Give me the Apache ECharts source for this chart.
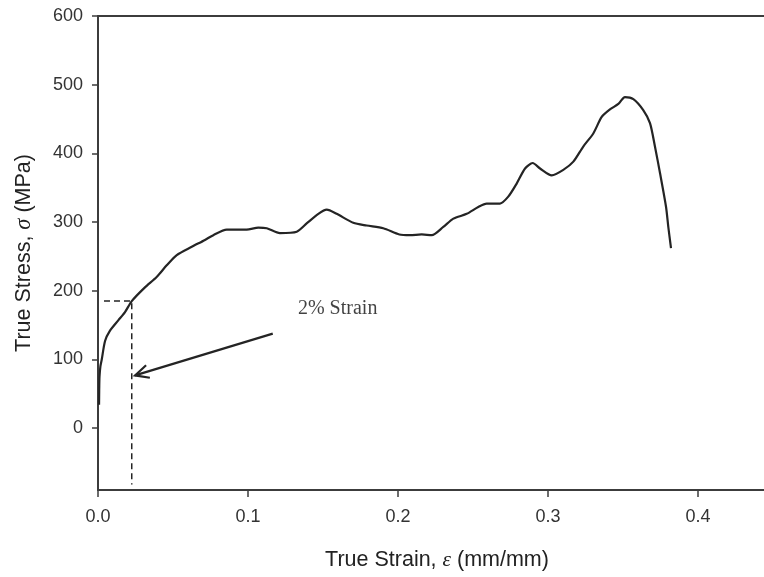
<!DOCTYPE html>
<html>
<head>
<meta charset="utf-8">
<script src="https://cdn.jsdelivr.net/npm/echarts@6/dist/echarts.min.js"></script>
<style>
  html, body { margin: 0; padding: 0; background: #ffffff; }
  #chart { width: 764px; height: 577px; }
</style>
</head>
<body>
<div id="chart"></div>
<script>
// True stress–strain curve of the tensile specimen
const strain = [0.0007, 0.0008, 0.0010, 0.0016, 0.0025, 0.0047, 0.0080, 0.0135, 0.0180, 0.0225,
  0.0313, 0.0391, 0.0458, 0.0525, 0.0625, 0.0713, 0.0769, 0.0858, 0.0991, 0.1069,
  0.1125, 0.1213, 0.1325, 0.1391, 0.1469, 0.1525, 0.1591, 0.1702, 0.1791, 0.1902,
  0.2009, 0.2080, 0.2158, 0.2225, 0.2302, 0.2369, 0.2458, 0.2535, 0.2591, 0.2680,
  0.2735, 0.2791, 0.2847, 0.2898, 0.2947, 0.3025, 0.3102, 0.3169, 0.3235, 0.3302,
  0.3358, 0.3413, 0.3469, 0.3513, 0.3569, 0.3635, 0.3680, 0.3713, 0.3747, 0.3787,
  0.3802, 0.3820];
const stress = [34, 55, 75, 90, 100, 127, 142, 157, 169, 185,
  205, 220, 237, 252, 264, 274, 281, 289, 289, 292,
  291, 284, 286, 298, 312, 318, 312, 299, 295, 291,
  282, 281, 282, 281, 293, 305, 312, 322, 327, 327,
  337, 356, 378, 386, 378, 368, 376, 388, 410, 429,
  453, 464, 472, 482, 479, 463, 444, 410, 371, 322,
  293, 262];

// Axis ticks
const strainTicks = [0, 0.1, 0.2, 0.3, 0.4];
const stressTicks = [0, 100, 200, 300, 400, 500, 600];

// 2% strain offset guide and its note
const guideStrain = [0.004, 0.0225, 0.0225];
const guideStress = [185, 185, -82];
const arrowTail = [0.1165, 137.6];
const arrowHead = [0.0247, 76.8];
const noteLabel = '2% Strain';
const notePoint = [0.1333, 174.5];

const ink = '#242424';
const axisInk = '#3c3c3c';
const sans = '"Liberation Sans", Arial, sans-serif';
const serif = '"Liberation Serif", "Times New Roman", serif';

const chart = echarts.init(document.getElementById('chart'), null, { renderer: 'canvas' });

const curve = strain.map((x, i) => [x, stress[i]]);
const guide = guideStrain.map((x, i) => [x, guideStress[i]]);

chart.setOption({
  animation: false,
  backgroundColor: '#ffffff',
  grid: { left: 98, top: 16, right: 0, bottom: 87 },
  xAxis: [{
    type: 'value',
    min: 0, max: 0.444,
    position: 'bottom',
    splitLine: { show: false },
    axisLine: { show: true, onZero: false, lineStyle: { color: axisInk, width: 2 } },
    axisTick: { show: true, length: 7, customValues: strainTicks, lineStyle: { color: axisInk, width: 1.5 } },
    axisLabel: {
      customValues: strainTicks, margin: 18,
      color: '#333', fontSize: 18, fontFamily: sans,
      formatter: v => v.toFixed(1)
    },
    name: 'True Strain, {g|ε} (mm/mm)',
    nameLocation: 'middle', nameGap: 59,
    nameTextStyle: {
      color: '#222', fontSize: 21.5, fontFamily: sans,
      padding: [0, 0, 0, 12],
      rich: { g: { fontFamily: serif, fontStyle: 'italic', fontSize: 21.5, color: '#222' } }
    }
  }, {
    type: 'value',
    min: 0, max: 0.444,
    position: 'top',
    splitLine: { show: false },
    axisLine: { show: true, onZero: false, lineStyle: { color: axisInk, width: 2 } },
    axisTick: { show: false },
    axisLabel: { show: false }
  }],
  yAxis: {
    type: 'value',
    min: -90, max: 600,
    splitLine: { show: false },
    axisLine: { show: true, onZero: false, lineStyle: { color: axisInk, width: 2 } },
    axisTick: { show: true, length: 6, customValues: stressTicks, lineStyle: { color: axisInk, width: 1.5 } },
    axisLabel: {
      customValues: stressTicks, margin: 15,
      color: '#333', fontSize: 18, fontFamily: sans
    },
    name: 'True Stress, {g|σ} (MPa)',
    nameLocation: 'middle', nameGap: 62, nameRotate: 90,
    nameTextStyle: {
      color: '#222', fontSize: 21.5, fontFamily: sans,
      rich: { g: { fontFamily: serif, fontStyle: 'italic', fontSize: 22.5, color: '#222' } }
    }
  },
  series: [{
    type: 'line',
    data: curve,
    showSymbol: false,
    smooth: 0.25,
    lineStyle: { color: ink, width: 2.2 },
    z: 5
  }, {
    type: 'line',
    data: guide,
    showSymbol: false,
    lineStyle: { color: ink, width: 1.5, type: [6, 4] },
    z: 4
  }, {
    type: 'custom',
    data: [[arrowTail[0], arrowTail[1], arrowHead[0], arrowHead[1]]],
    renderItem: (params, api) => {
      const t = api.coord([api.value(0), api.value(1)]);
      const h = api.coord([api.value(2), api.value(3)]);
      const ang = Math.atan2(t[1] - h[1], t[0] - h[0]);
      const len = 15, spread = 0.45;
      const w1 = [h[0] + len * Math.cos(ang + spread), h[1] + len * Math.sin(ang + spread)];
      const w2 = [h[0] + len * Math.cos(ang - spread), h[1] + len * Math.sin(ang - spread)];
      return {
        type: 'group',
        children: [{
          type: 'line',
          shape: { x1: t[0], y1: t[1], x2: h[0], y2: h[1] },
          style: { stroke: ink, lineWidth: 2.2 }
        }, {
          type: 'polyline',
          shape: { points: [w1, h, w2] },
          style: { stroke: ink, lineWidth: 2.2, fill: null }
        }]
      };
    },
    z: 6
  }, {
    type: 'scatter',
    data: [notePoint],
    symbolSize: 0,
    silent: true,
    label: {
      show: true, position: 'right', distance: 0,
      formatter: noteLabel,
      color: '#111', fontSize: 20, fontFamily: serif
    }
  }]
});
</script>
</body>
</html>
